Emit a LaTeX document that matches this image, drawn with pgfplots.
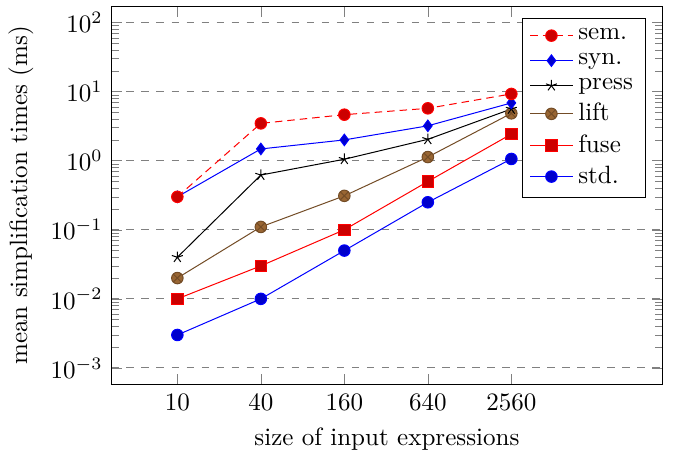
\documentclass[border=0pt]{standalone}
\usepackage{pgfplots}
\pgfplotsset{compat=1.18}
\begin{document}
\begin{tikzpicture}
\begin{axis}[
  scale only axis,
  width=220pt, height=151pt,
  ymode=log,
  ymin=5.75e-4, ymax=172,
  xmin=-0.79, xmax=5.81,
  xtick={0,1,2,3,4},
  xticklabels={10,40,160,640,2560},
  ytick={1e-3,1e-2,1e-1,1,10,100},
  ymajorgrids,
  grid style={dashed,gray},
  xlabel={size of input expressions},
  ylabel={mean simplification times (ms)},
  legend pos=north east,
  reverse legend,
  legend cell align=left,
  every axis plot/.append style={mark size=2.3pt},
]
\addplot coordinates {(0,0.003) (1,0.01) (2,0.05) (3,0.25) (4,1.06)};
\addlegendentry{std.}
\addplot coordinates {(0,0.01) (1,0.03) (2,0.1) (3,0.5) (4,2.43)};
\addlegendentry{fuse}
\addplot coordinates {(0,0.02) (1,0.11) (2,0.31) (3,1.13) (4,4.85)};
\addlegendentry{lift}
\addplot coordinates {(0,0.04) (1,0.62) (2,1.05) (3,2.04) (4,5.6)};
\addlegendentry{press}
\addplot coordinates {(0,0.3) (1,1.48) (2,2.0) (3,3.2) (4,6.86)};
\addlegendentry{syn.}
\addplot coordinates {(0,0.3) (1,3.47) (2,4.64) (3,5.73) (4,9.26)};
\addlegendentry{sem.}
\end{axis}
\coordinate (bbne) at ([xshift=5.2pt,yshift=1.6pt]current bounding box.north east);
\coordinate (bbsw) at ([yshift=-2pt]current bounding box.south west);
\path (bbne) rectangle (bbsw);
\end{tikzpicture}
\end{document}
